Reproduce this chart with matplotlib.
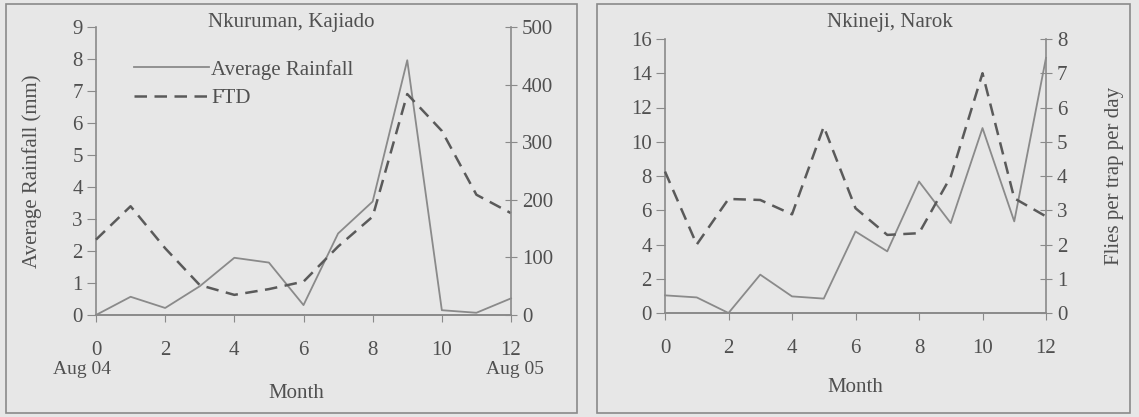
import matplotlib.pyplot as plt
from matplotlib.patches import Rectangle
from matplotlib.lines import Line2D

plt.rcParams['font.family'] = ['Liberation Serif', 'DejaVu Serif']

months = list(range(13))

# Nkuruman, Kajiado
kaj_rain = [0.0, 0.57, 0.22, 0.9, 1.79, 1.64, 0.31, 2.55, 3.55, 7.97, 0.15, 0.07, 0.52]
kaj_ftd = [131, 189, 116, 52, 35, 45, 58, 119, 171, 384, 320, 209, 177]

# Nkineji, Narok
nar_rain = [1.03, 0.91, 0.0, 2.24, 0.97, 0.84, 4.76, 3.6, 7.68, 5.25, 10.8, 5.35, 14.9]
nar_ftd = [4.13, 2.0, 3.33, 3.3, 2.88, 5.44, 3.06, 2.28, 2.33, 3.98, 7.0, 3.35, 2.82]

bg = '#e7e7e7'
line_c = '#8a8a8a'
dash_c = '#5a5a5a'
txt_c = '#505050'
fs = 15

W, H = 1139, 417
fig = plt.figure(figsize=(W / 100, H / 100), dpi=100)
fig.patch.set_facecolor(bg)


def fx(px):
    return px / W


def fy(py):
    return 1 - py / H


# panel frames
for x0, x1 in [(6, 577), (597, 1130)]:
    fig.patches.append(Rectangle((fx(x0), fy(413)), fx(x1 - x0), (413 - 4) / H,
                                 transform=fig.transFigure, fill=False,
                                 edgecolor='#8a8a8a', linewidth=1.2))


def style(ax, ax2):
    ax.set_facecolor('none')
    for a in (ax, ax2):
        a.spines['top'].set_visible(False)
        for s in a.spines.values():
            s.set_color(line_c)
            s.set_linewidth(1.2)
    ax2.spines['left'].set_visible(False)
    ax.spines['right'].set_visible(False)
    ax.tick_params(axis='y', direction='out', length=6.5, color=line_c,
                   labelcolor=txt_c, labelsize=fs, pad=3)
    ax.tick_params(axis='x', direction='out', length=5, color=line_c,
                   labelcolor=txt_c, labelsize=fs, pad=14)
    ax2.tick_params(axis='y', direction='inout', length=8, color=line_c,
                    labelcolor=txt_c, labelsize=fs, pad=4)
    ax.set_xlim(0, 12)
    ax.set_xticks(range(0, 13, 2))


# left panel
ax = fig.add_axes([fx(96), fy(315), fx(511 - 96), (315 - 27.3) / H])
ax2 = ax.twinx()
ax.plot(months, kaj_rain, color=line_c, lw=1.3, clip_on=False)
ax2.plot(months, kaj_ftd, color=dash_c, lw=1.8, ls=(0, (5, 3)), clip_on=False)
ax.set_ylim(0, 9)
ax.set_yticks(range(10))
ax2.set_ylim(0, 500)
ax2.set_yticks(range(0, 501, 100))
style(ax, ax2)
ax.set_ylabel('Average Rainfall (mm)', fontsize=fs, color=txt_c)
ax.yaxis.set_label_coords((42 - 96) / 415, 0.5)
fig.text(fx(291), fy(23), 'Nkuruman, Kajiado', ha='center', va='center',
         fontsize=fs, color=txt_c)
fig.text(fx(82), fy(369), 'Aug 04', ha='center', va='center', fontsize=14, color=txt_c)
fig.text(fx(515), fy(369), 'Aug 05', ha='center', va='center', fontsize=14, color=txt_c)
fig.text(fx(296), fy(393), 'Month', ha='center', va='center', fontsize=fs, color=txt_c)

handles = [Line2D([], [], color=line_c, lw=1.3),
           Line2D([], [], color=dash_c, lw=1.8, ls=(0, (5, 3)))]
ax.legend(handles, ['Average Rainfall', 'FTD'], loc='upper left',
          bbox_to_anchor=(0.046, 0.952), frameon=False, fontsize=fs,
          handlelength=3.6, handletextpad=0.1, labelspacing=0.42,
          labelcolor=txt_c)

# right panel
bx = fig.add_axes([fx(665), fy(313), fx(1046 - 665), (313 - 39) / H])
bx2 = bx.twinx()
bx.plot(months, nar_rain, color=line_c, lw=1.3, clip_on=False)
bx2.plot(months, nar_ftd, color=dash_c, lw=1.8, ls=(0, (5, 3)), clip_on=False)
bx.set_ylim(0, 16)
bx.set_yticks(range(0, 17, 2))
bx2.set_ylim(0, 8)
bx2.set_yticks(range(9))
style(bx, bx2)
bx2.set_ylabel('Flies per trap per day', fontsize=fs, color=txt_c)
bx2.yaxis.set_label_coords((1105 - 665) / 381, 0.5)
fig.text(fx(890), fy(22), 'Nkineji, Narok', ha='center', va='center',
         fontsize=fs, color=txt_c)
fig.text(fx(855), fy(388), 'Month', ha='center', va='center', fontsize=fs, color=txt_c)

fig.savefig('out.png', dpi=100, facecolor=bg)
